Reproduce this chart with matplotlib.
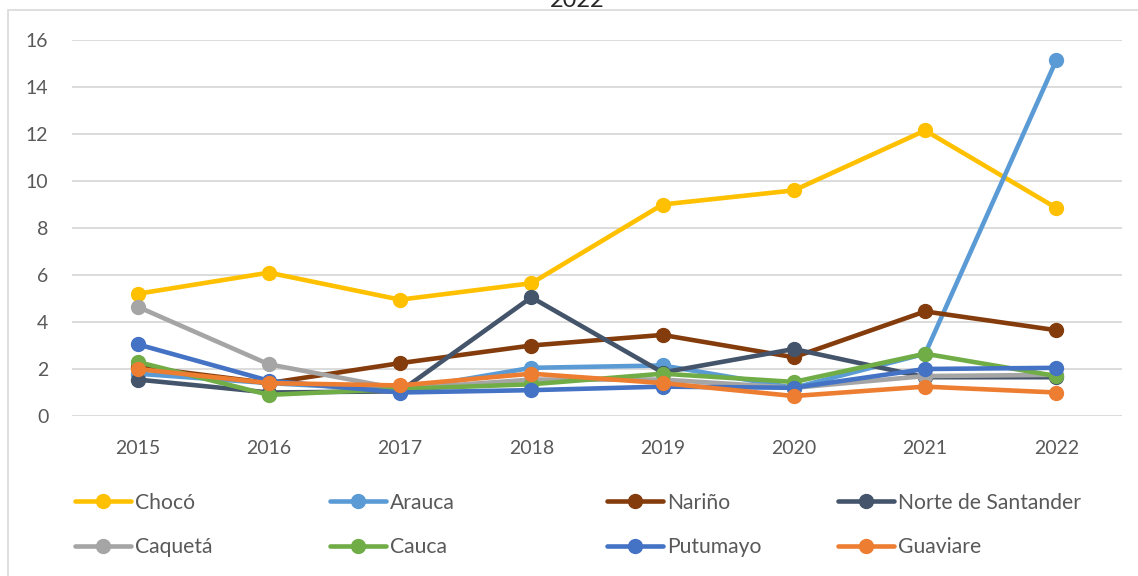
import numpy as np
import matplotlib
matplotlib.use("Agg")
import matplotlib.pyplot as plt
from matplotlib.patches import Rectangle

plt.rcParams['font.family'] = ['Lato', 'DejaVu Sans']

# data
years = ['2015', '2016', '2017', '2018', '2019', '2020', '2021', '2022']

choco = [5.2, 6.1, 4.95, 5.65, 9.0, 9.6, 12.15, 8.85]
arauca = [1.8, 1.4, 1.1, 2.05, 2.15, 1.2, 2.65, 15.15]
narino = [2.1, 1.4, 2.25, 3.0, 3.45, 2.5, 4.45, 3.65]
norte = [1.55, 1.0, 1.05, 5.05, 1.85, 2.85, 1.65, 1.65]
caqueta = [4.65, 2.2, 1.15, 1.55, 1.55, 1.2, 1.7, 1.75]
cauca = [2.3, 0.9, 1.15, 1.35, 1.8, 1.45, 2.65, 1.7]
putumayo = [3.05, 1.5, 1.0, 1.1, 1.25, 1.2, 2.0, 2.05]
guaviare = [2.0, 1.4, 1.3, 1.8, 1.4, 0.85, 1.25, 1.0]

series = [
    ('Chocó', choco, '#FFC000'),
    ('Arauca', arauca, '#5B9BD5'),
    ('Nariño', narino, '#843C0C'),
    ('Norte de Santander', norte, '#44546A'),
    ('Caquetá', caqueta, '#A5A5A5'),
    ('Cauca', cauca, '#70AD47'),
    ('Putumayo', putumayo, '#4472C4'),
    ('Guaviare', guaviare, '#ED7D31'),
]

W, H = 1138, 576
fig = plt.figure(figsize=(W / 100, H / 100), dpi=100)
ax = fig.add_axes([72 / W, 1 - 416 / H, (1122 - 72) / W, (416 - 40) / H])

x = np.arange(len(years))
handles = {}
for name, vals, col in series:
    ln, = ax.plot(x, vals, color=col, lw=3.3, marker='o', markersize=10,
                  solid_capstyle='round', solid_joinstyle='round', label=name)
    handles[name] = ln

ax.set_xlim(-0.5, len(years) - 0.5)
ax.set_ylim(0, 16)
ax.set_yticks(np.arange(0, 17, 2))
ax.set_xticks(x)
ax.set_xticklabels(years)
ax.grid(axis='y', color='#D9D9D9', lw=1.3)
ax.set_axisbelow(True)
for s in ax.spines.values():
    s.set_visible(False)
ax.tick_params(axis='y', length=0, pad=17, labelsize=14, labelcolor='#595959')
ax.tick_params(axis='x', length=0, pad=17, labelsize=14, labelcolor='#595959')

# legend: four columns of two entries, placed like the Excel layout
cols = [
    (75, ['Chocó', 'Caquetá']),
    (330, ['Arauca', 'Cauca']),
    (607, ['Nariño', 'Putumayo']),
    (838, ['Norte de Santander', 'Guaviare']),
]
for xpix, names in cols:
    leg = fig.legend([handles[n] for n in names], names,
                     loc='center left', bbox_to_anchor=(xpix / W, 1 - 525 / H),
                     frameon=False, fontsize=15.2, handlelength=2.65,
                     handletextpad=0.2, borderpad=0, borderaxespad=0,
                     labelspacing=1.15, labelcolor='#595959')

# chart area border (cut by the image edges)
fig.patches.append(Rectangle((8 / W, -0.05), 1.2, 1 - 10 / H + 0.05,
                             transform=fig.transFigure, fill=False,
                             edgecolor='#D9D9D9', lw=1.2))

fig.text(577 / W, 1 - 7 / H, '2022', ha='center', va='baseline',
         fontsize=17, color='#262626')

fig.savefig('out.png', dpi=100)
